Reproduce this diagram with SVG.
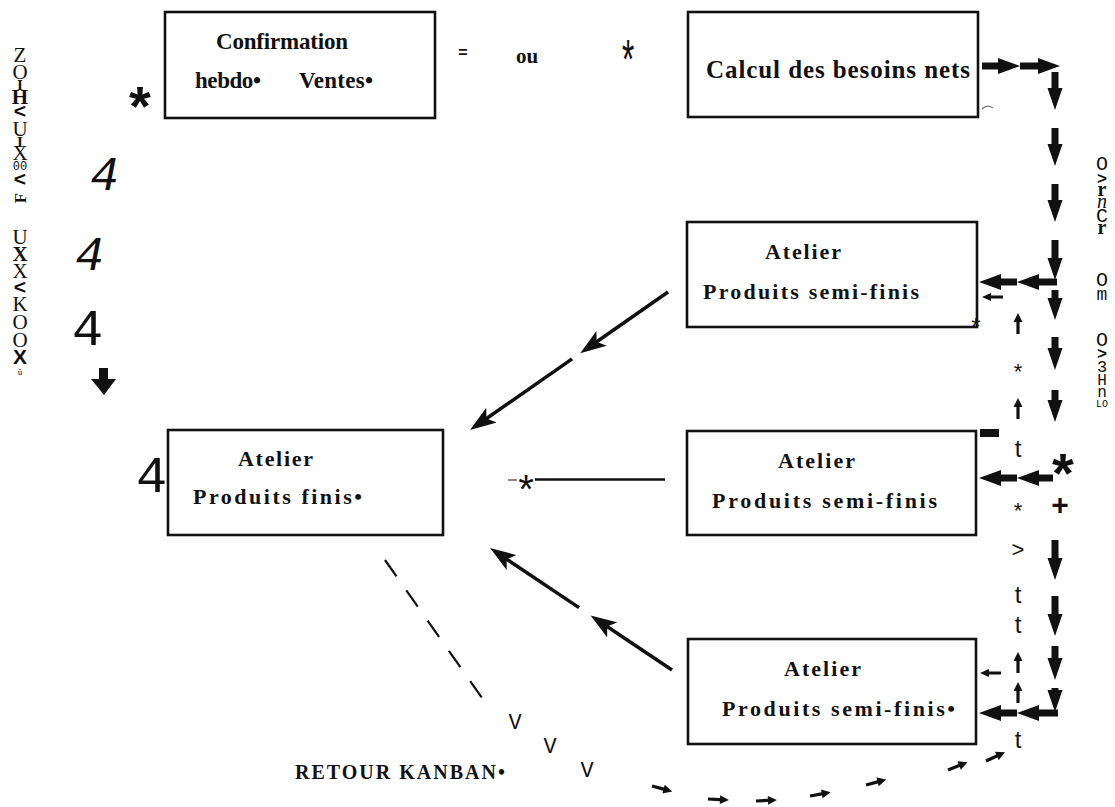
<svg xmlns="http://www.w3.org/2000/svg" width="1115" height="807" viewBox="0 0 1115 807">
<defs>
<style>
.box{fill:#fff;stroke:#111;stroke-width:2.6}
.lbl{font-family:"Liberation Serif","Times New Roman",serif;font-weight:bold;fill:#111}
.mono{font-family:"Liberation Mono","Courier New",monospace;fill:#111}
.serif{font-family:"Liberation Serif","Times New Roman",serif;fill:#111}
.sans{font-family:"Liberation Sans",Arial,sans-serif;fill:#111}
.ln{stroke:#111;stroke-width:3.5;fill:none}
.ar{fill:#111}
</style>
<marker id="ah" markerUnits="userSpaceOnUse" markerWidth="26" markerHeight="18" viewBox="0 0 26 18" refX="12" refY="9" orient="auto"><path d="M0,0 L26,9 L0,18 L6,9 Z" fill="#111"/></marker>
<path id="sa" d="M0,-1.6 H12 V-4.5 L21,0 L12,4.5 V1.6 H0 Z"/>
<path id="su" d="M0,0 L4.5,9 H1.6 V21 H-1.6 V9 H-4.5 Z"/>
<path id="sl" d="M0,0 L9,-4 V-1.5 H21 V1.5 H9 V4 Z"/>
</defs>
<rect width="1115" height="807" fill="#fff"/>

<g id="n-confirmation">
<rect class="box" x="165" y="12" width="270" height="106"/>
<text class="lbl" x="216" y="49" font-size="23" textLength="132" lengthAdjust="spacing">Confirmation</text>
<text class="lbl" x="195" y="88" font-size="23" textLength="66" lengthAdjust="spacing">hebdo•</text>
<text class="lbl" x="299" y="88" font-size="23" textLength="74" lengthAdjust="spacing">Ventes•</text>
</g>
<g id="n-calcul">
<rect class="box" x="688" y="12" width="290" height="105"/>
<text class="lbl" x="706" y="78" font-size="25" textLength="264" lengthAdjust="spacing">Calcul des besoins nets</text>
</g>
<g id="n-semi1">
<rect class="box" x="687" y="222" width="290" height="105"/>
<text class="lbl" x="765" y="259" font-size="22" textLength="76" lengthAdjust="spacing">Atelier</text>
<text class="lbl" x="703" y="299" font-size="22" textLength="216" lengthAdjust="spacing">Produits semi-finis</text>
</g>
<g id="n-semi2">
<rect class="box" x="687" y="431" width="289" height="104"/>
<text class="lbl" x="778" y="468" font-size="22" textLength="77" lengthAdjust="spacing">Atelier</text>
<text class="lbl" x="712" y="508" font-size="22" textLength="225" lengthAdjust="spacing">Produits semi-finis</text>
</g>
<g id="n-semi3">
<rect class="box" x="688" y="639" width="288" height="105"/>
<text class="lbl" x="784" y="676" font-size="22" textLength="77" lengthAdjust="spacing">Atelier</text>
<text class="lbl" x="722" y="716" font-size="22" textLength="233" lengthAdjust="spacing">Produits semi-finis•</text>
</g>
<g id="n-finis">
<rect class="box" x="168" y="430" width="275" height="105"/>
<text class="lbl" x="238" y="466" font-size="22" textLength="75" lengthAdjust="spacing">Atelier</text>
<text class="lbl" x="193" y="504" font-size="22" textLength="169" lengthAdjust="spacing">Produits finis•</text>
</g>

<g id="connectors">
<path class="ar" d="M982,62.5 V69.5 H998 V74 L1020,66 L998,58 V62.5 Z M1020,62.5 V69.5 H1038 V74 L1060,66 L1038,58 V62.5 Z"/>
<path class="ar" d="M1051.5,72 H1058.5 V88 H1062.5 L1055,110 L1047.5,88 H1051.5 Z
M1051.5,128 H1058.5 V144 H1062.5 L1055,166 L1047.5,144 H1051.5 Z
M1051.5,184 H1058.5 V200 H1062.5 L1055,222 L1047.5,200 H1051.5 Z
M1051.5,240 H1058.5 V258 H1062.5 L1055,280 L1047.5,258 H1051.5 Z
M1051.5,290 H1058.5 V298 H1062.5 L1055,320 L1047.5,298 H1051.5 Z
M1051.5,337 H1058.5 V348 H1062.5 L1055,370 L1047.5,348 H1051.5 Z
M1051.5,390 H1058.5 V400 H1062.5 L1055,422 L1047.5,400 H1051.5 Z
M1051.5,540 H1058.5 V558 H1062.5 L1055,580 L1047.5,558 H1051.5 Z
M1051.5,596 H1058.5 V614 H1062.5 L1055,636 L1047.5,614 H1051.5 Z
M1051.5,646 H1058.5 V658 H1062.5 L1055,680 L1047.5,658 H1051.5 Z
M1051.5,688 H1058.5 V690 H1062.5 L1055,712 L1047.5,690 H1051.5 Z"/>
<path class="ar" d="M979,282 L1001,274 V278.5 H1017 V285.5 H1001 V290 Z M1017,282 L1039,274 V278.5 H1057 V285.5 H1039 V290 Z
M979,478 L1001,470 V474.5 H1017 V481.5 H1001 V486 Z M1017,478 L1039,470 V474.5 H1053 V481.5 H1039 V486 Z
M979,713 L1001,705 V709.5 H1017 V716.5 H1001 V721 Z M1017,713 L1039,705 V709.5 H1058 V716.5 H1039 V721 Z"/>
<use href="#sl" class="ar" transform="translate(982,297)"/>
<use href="#sl" class="ar" transform="translate(980,673)"/>
<use href="#su" class="ar" transform="translate(1018,313)"/>
<use href="#su" class="ar" transform="translate(1018,398)"/>
<use href="#su" class="ar" transform="translate(1018,652)"/>
<use href="#su" class="ar" transform="translate(1018,682)"/>
<line class="ln" x1="668" y1="292" x2="591.7" y2="345.2" marker-end="url(#ah)"/>
<line class="ln" x1="572.1" y1="358.9" x2="481.5" y2="422" marker-end="url(#ah)"/>
<line class="ln" x1="672" y1="670" x2="602.2" y2="623.2" marker-end="url(#ah)"/>
<line class="ln" x1="579" y1="607.6" x2="501.7" y2="555.9" marker-end="url(#ah)"/>
<line x1="535" y1="479.5" x2="665" y2="479.5" stroke="#111" stroke-width="2.6"/>
<line x1="508" y1="480" x2="517" y2="480" stroke="#888" stroke-width="2"/>
<line x1="385" y1="560" x2="487" y2="705" stroke="#111" stroke-width="2.2" stroke-dasharray="20 17"/>
<use href="#sa" class="ar" transform="translate(652,786) rotate(15)"/>
<use href="#sa" class="ar" transform="translate(708,799) rotate(3)"/>
<use href="#sa" class="ar" transform="translate(756,801) rotate(-3)"/>
<use href="#sa" class="ar" transform="translate(810,796) rotate(-10)"/>
<use href="#sa" class="ar" transform="translate(866,785) rotate(-15)"/>
<use href="#sa" class="ar" transform="translate(948,770) rotate(-22)"/>
<use href="#sa" class="ar" transform="translate(986,761) rotate(-25)"/>
<path class="ar" d="M99,368 H108 V379 H116 L104,395 L91,379 H99 Z"/>
<rect x="980" y="429" width="19" height="8" fill="#111"/>
<path d="M982,109 q5,-5 11,-1" fill="none" stroke="#777" stroke-width="1.2"/>
</g>

<g id="marks">
<text class="sans" font-weight="bold" font-size="56" x="140" y="125" text-anchor="middle">*</text>
<text class="sans" font-weight="bold" font-size="16" x="463" y="58" text-anchor="middle">=</text>
<text class="lbl" font-size="21" x="527" y="63" text-anchor="middle">ou</text>
<text class="mono" font-size="40" x="628" y="72" text-anchor="middle" transform="translate(628,52) scale(0.8,1.4) translate(-628,-52)">*</text>
<text class="sans" font-weight="bold" font-size="56" x="1063" y="492" text-anchor="middle">*</text>
<text class="sans" font-weight="bold" font-size="30" x="1060" y="515" text-anchor="middle">+</text>
<text class="mono" font-size="24" x="976" y="336" text-anchor="middle">*</text>
<text class="sans" font-size="40" x="526" y="503" text-anchor="middle">*</text>
<g class="sans" font-size="24" text-anchor="middle">
<text x="1018" y="379" font-size="22">*</text>
<text x="1018" y="457">t</text>
<text x="1018" y="518" font-size="22">*</text>
<text x="1018" y="557" font-size="22">&gt;</text>
<text x="1018" y="603">t</text>
<text x="1018" y="633">t</text>
<text x="1018" y="748">t</text>
</g>
<g class="mono" font-size="22" text-anchor="middle">
<text x="515" y="729">V</text>
<text x="550" y="753">V</text>
<text x="587" y="777">V</text>
</g>
<text class="lbl" font-size="20" x="295" y="779" textLength="210" lengthAdjust="spacing">RETOUR KANBAN•</text>
<g class="mono" font-size="48" font-style="italic">
<text x="90" y="190">4</text>
<text x="75" y="270">4</text>
</g>
<text class="mono" font-size="52" x="72" y="345">4</text>
<text class="mono" font-size="52" x="136" y="492">4</text>
<g text-anchor="middle" font-size="21">
<text class="serif" x="20" y="62">Z</text>
<text class="serif" x="20" y="79">O</text>
<text class="serif" font-weight="bold" x="20" y="90" font-size="15">I</text>
<text class="serif" font-weight="bold" x="20" y="104">H</text>
<text class="sans" font-weight="bold" x="20" y="118">&lt;</text>
<text class="serif" x="20" y="136">U</text>
<text class="serif" font-weight="bold" x="20" y="147" font-size="15">I</text>
<text class="serif" x="20" y="160">X</text>
<text class="mono" x="20" y="170" font-size="12">00</text>
<text class="sans" font-weight="bold" x="20" y="186">&lt;</text>
<text class="serif" font-weight="bold" x="20" y="204" font-size="17" transform="rotate(-90 20 198)">F</text>
<text class="serif" x="20" y="244">U</text>
<text class="serif" font-weight="bold" x="20" y="261">X</text>
<text class="serif" x="20" y="278">X</text>
<text class="sans" font-weight="bold" x="20" y="294">&lt;</text>
<text class="serif" x="20" y="311">K</text>
<text class="serif" x="20" y="329">O</text>
<text class="serif" x="20" y="347">O</text>
<text class="sans" font-weight="bold" x="20" y="364">X</text>
<text class="serif" x="20" y="375" font-size="9">û</text>
</g>
<g text-anchor="middle" font-size="20">
<text class="mono" x="1102" y="170">O</text>
<text class="sans" font-weight="bold" x="1102" y="184" font-size="17">&gt;</text>
<text class="serif" font-weight="bold" x="1102" y="196">r</text>
<text class="serif" font-style="italic" x="1102" y="208">n</text>
<text class="mono" x="1102" y="222">C</text>
<text class="serif" font-weight="bold" x="1102" y="234">r</text>
<text class="mono" x="1102" y="286">O</text>
<text class="mono" x="1102" y="300" font-size="18">m</text>
<text class="mono" x="1102" y="346">O</text>
<text class="sans" font-weight="bold" x="1102" y="359" font-size="17">&gt;</text>
<text class="mono" x="1102" y="372" font-size="17">3</text>
<text class="mono" x="1102" y="385" font-size="16">H</text>
<text class="mono" x="1102" y="397" font-size="16">n</text>
<text class="mono" x="1102" y="407" font-size="10">LO</text>
</g>
</g>
</svg>
